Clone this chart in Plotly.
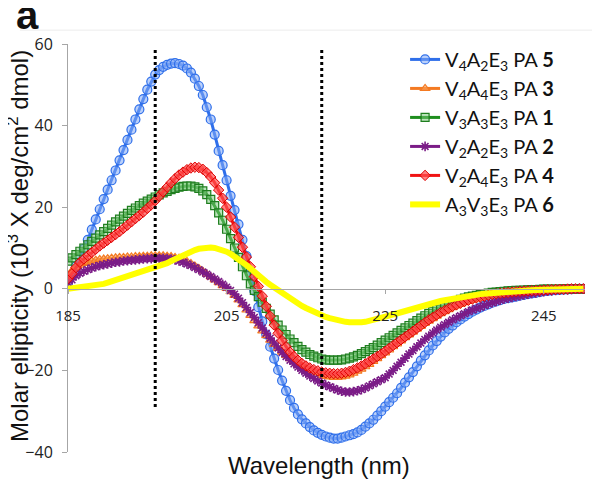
import plotly.graph_objects as go

# Wavelength grid (nm), 0.5 nm steps from 185 to 250
wavelength = [185 + 0.5 * i for i in range(131)]

names = [
    "V<sub>4</sub>A<sub>2</sub>E<sub>3</sub> PA <b>5</b>",
    "V<sub>4</sub>A<sub>4</sub>E<sub>3</sub> PA <b>3</b>",
    "V<sub>3</sub>A<sub>3</sub>E<sub>3</sub> PA <b>1</b>",
    "V<sub>2</sub>A<sub>2</sub>E<sub>3</sub> PA <b>2</b>",
    "V<sub>2</sub>A<sub>4</sub>E<sub>3</sub> PA <b>4</b>",
    "A<sub>3</sub>V<sub>3</sub>E<sub>3</sub> PA <b>6</b>",
]

pa5 = [1.5, 3.5, 5.5, 7.5, 9.8, 12, 14.5, 17, 19.5, 22,
       24.3, 26.6, 29, 31.5, 34, 36.5, 39, 41.5, 44, 46.5,
       48.8, 50.8, 52.5, 53.6, 54.4, 54.9, 55.2, 55.3, 55.1, 54.7,
       54, 53, 51.5, 49.7, 47.5, 44.5, 41.5, 37.8, 33.8, 30.3,
       26.6, 22.8, 19.3, 15.8, 12, 8, 3.6, -0.5, -4.5, -8,
       -11.2, -14.2, -17.1, -19.9, -22.5, -25, -27.3, -29.2, -30.8, -32,
       -33, -33.9, -34.7, -35.3, -35.8, -36.2, -36.5, -36.7, -36.7, -36.5,
       -36.2, -35.9, -35.6, -35.2, -34.6, -33.8, -33, -32.1, -31.1, -30,
       -28.9, -27.8, -26.7, -25.6, -24.3, -23, -21.7, -20.4, -19, -17.6,
       -16.3, -15.1, -13.9, -12.8, -11.7, -10.7, -9.8, -9, -8.2, -7.5,
       -6.8, -6.2, -5.6, -5.1, -4.6, -4.2, -3.8, -3.4, -3.1, -2.8,
       -2.5, -2.3, -2.1, -1.9, -1.7, -1.5, -1.3, -1.1, -1.0, -0.8,
       -0.6, -0.5, -0.4, -0.3, -0.25, -0.2, -0.15, -0.1, -0.05, 0,
       0]

pa3 = [3, 4.4, 5.2, 5.8, 6.2, 6.5, 6.8, 7, 7.2, 7.3,
       7.4, 7.5, 7.6, 7.7, 7.7, 7.8, 7.8, 7.9, 7.9, 8,
       8, 8.1, 8.1, 8.1, 8.1, 8, 7.9, 7.7, 7.5, 7.1,
       6.7, 6.2, 5.6, 5, 4.3, 3.6, 2.9, 2.2, 1.5, 0.8,
       0.1, -0.7, -1.6, -2.7, -3.9, -5.2, -6.5, -7.8, -9.1, -10.3,
       -11.5, -12.6, -13.6, -14.6, -15.5, -16.3, -17.1, -17.8, -18.5, -19.1,
       -19.7, -20.2, -20.6, -21, -21.3, -21.5, -21.6, -21.7, -21.7, -21.6,
       -21.4, -21.1, -20.7, -20.2, -19.7, -19.1, -18.5, -17.8, -17.1, -16.4,
       -15.7, -15, -14.2, -13.5, -12.8, -12, -11.3, -10.6, -9.9, -9.2,
       -8.5, -7.9, -7.3, -6.7, -6.1, -5.6, -5.1, -4.6, -4.2, -3.8,
       -3.4, -3.1, -2.8, -2.5, -2.2, -2, -1.8, -1.6, -1.4, -1.25,
       -1.1, -1, -0.9, -0.8, -0.7, -0.6, -0.5, -0.45, -0.4, -0.35,
       -0.3, -0.25, -0.2, -0.15, -0.1, -0.1, -0.05, 0, 0, 0,
       0]

pa1 = [6.8, 7.6, 8.4, 9.2, 10, 10.8, 11.6, 12.4, 13.2, 14,
       14.8, 15.6, 16.4, 17.1, 17.8, 18.5, 19.2, 19.8, 20.4, 21,
       21.5, 22, 22.5, 23, 23.5, 23.9, 24.3, 24.6, 24.9, 25.1,
       25.2, 25.2, 25, 24.6, 24, 23.1, 21.9, 20.4, 18.6, 16.8,
       14.6, 12.3, 10, 7.7, 5.4, 3.2, 1.2, -0.4, -1.9, -3.3,
       -4.8, -6.2, -7.6, -8.9, -10.1, -11.2, -12.3, -13.2, -14.1, -14.9,
       -15.5, -16.1, -16.5, -16.9, -17.2, -17.4, -17.5, -17.5, -17.5, -17.4,
       -17.2, -17, -16.7, -16.3, -15.9, -15.4, -14.9, -14.4, -13.8, -13.2,
       -12.6, -12, -11.4, -10.8, -10.2, -9.6, -9, -8.4, -7.8, -7.2,
       -6.6, -6, -5.5, -5, -4.5, -4.1, -3.7, -3.3, -2.9, -2.6,
       -2.3, -2, -1.8, -1.6, -1.4, -1.2, -1.05, -0.9, -0.8, -0.7,
       -0.6, -0.5, -0.45, -0.4, -0.35, -0.3, -0.25, -0.2, -0.2, -0.15,
       -0.1, -0.1, -0.05, -0.05, -0.05, 0, 0, 0, 0, 0,
       0]

pa2 = [1.5, 2.2, 3.2, 3.8, 4.3, 4.7, 5.1, 5.4, 5.7, 5.9,
       6.1, 6.3, 6.5, 6.6, 6.8, 6.9, 7, 7.1, 7.2, 7.3,
       7.4, 7.4, 7.5, 7.5, 7.5, 7.4, 7.3, 7.1, 6.8, 6.5,
       6.1, 5.7, 5.2, 4.7, 4.1, 3.6, 3.0, 2.4, 1.8, 1.1,
       0.4, -0.4, -1.3, -2.3, -3.4, -4.6, -5.8, -7, -8.3, -9.6,
       -10.9, -12.1, -13.3, -14.5, -15.6, -16.6, -17.5, -18.4, -19.2, -20,
       -20.7, -21.4, -22, -22.6, -23.1, -23.6, -24, -24.4, -24.8, -25.1,
       -25.3, -25.3, -25.2, -25, -24.7, -24.3, -23.8, -23.3, -22.8, -22.3,
       -21.8, -20.9, -20, -19, -18, -17, -16, -15.1, -14.2, -13.3,
       -12.4, -11.6, -10.8, -10.1, -9.4, -8.8, -8.2, -7.6, -7.1, -6.6,
       -6.1, -5.6, -5.2, -4.8, -4.5, -4.1, -3.7, -3.4, -3.1, -2.8,
       -2.5, -2.3, -2.1, -1.9, -1.7, -1.5, -1.3, -1.15, -1, -0.85,
       -0.7, -0.6, -0.5, -0.4, -0.3, -0.25, -0.2, -0.15, -0.1, -0.05,
       0]

pa4 = [2.5, 3.7, 5.2, 6.5, 7.3, 8.1, 8.9, 9.7, 10.5, 11.2,
       11.9, 12.6, 13.3, 14, 14.8, 15.6, 16.4, 17.2, 18, 18.8,
       19.7, 20.6, 21.6, 22.7, 23.8, 24.9, 26, 27, 27.9, 28.6,
       29.2, 29.6, 29.8, 29.7, 29.3, 28.5, 27.4, 26, 24.2, 22.2,
       20, 17.6, 15.1, 12.6, 10.2, 7.8, 5.4, 3, 0.6, -1.8,
       -4.3, -6.7, -8.9, -10.9, -12.7, -14.2, -15.5, -16.6, -17.5, -18.3,
       -18.9, -19.4, -19.8, -20.1, -20.4, -20.6, -20.7, -20.8, -20.8, -20.7,
       -20.5, -20.2, -19.8, -19.4, -18.9, -18.4, -17.8, -17.2, -16.6, -16,
       -15.3, -14.6, -13.9, -13.2, -12.5, -11.8, -11.1, -10.4, -9.7, -9,
       -8.3, -7.6, -7, -6.4, -5.8, -5.3, -4.8, -4.3, -3.9, -3.5,
       -3.1, -2.8, -2.5, -2.2, -2, -1.8, -1.6, -1.4, -1.25, -1.1,
       -1, -0.9, -0.8, -0.7, -0.6, -0.55, -0.5, -0.45, -0.4, -0.35,
       -0.3, -0.25, -0.2, -0.15, -0.1, -0.1, -0.05, 0, 0, 0,
       0]

pa6 = [0, 0.1, 0.2, 0.3, 0.4, 0.5, 0.65, 0.8, 1, 1.2,
       1.5, 1.8, 2.1, 2.4, 2.7, 3, 3.3, 3.6, 3.9, 4.2,
       4.5, 4.8, 5.1, 5.5, 5.9, 6.3, 6.8, 7.3, 7.8, 8.3,
       8.8, 9.2, 9.5, 9.8, 10, 10.1, 10.1, 10, 9.8, 9.5,
       9.1, 8.6, 8, 7.3, 6.6, 5.8, 5, 4.1, 3.3, 2.5,
       1.7, 1, 0.3, -0.4, -1.1, -1.8, -2.4, -3, -3.6, -4.2,
       -4.7, -5.2, -5.7, -6.1, -6.5, -6.9, -7.2, -7.5, -7.7, -7.9,
       -8.1, -8.2, -8.3, -8.3, -8.2, -8.1, -7.9, -7.7, -7.5, -7.2,
       -6.9, -6.6, -6.3, -6, -5.7, -5.4, -5.1, -4.8, -4.5, -4.2,
       -3.9, -3.7, -3.4, -3.2, -3, -2.8, -2.6, -2.4, -2.2, -2,
       -1.85, -1.7, -1.55, -1.4, -1.3, -1.2, -1.1, -1, -0.9, -0.8,
       -0.7, -0.65, -0.6, -0.55, -0.5, -0.45, -0.4, -0.35, -0.3, -0.25,
       -0.2, -0.15, -0.1, -0.1, -0.05, 0, 0, 0, 0, 0,
       0]

series = [pa5, pa3, pa1, pa2, pa4, pa6]

# wavelengths of the two dotted guide lines, and their vertical extent
guide_wavelengths = [196, 217]
guide_span = [-29, 58.5]

x_ticks = [185, 205, 225, 245]
y_ticks = [-40, -20, 0, 20, 40, 60]

styles = [
    dict(line=dict(color="#2F6FEA", width=3),
         marker=dict(symbol="circle", size=9, color="rgba(130,170,245,0.55)",
                     line=dict(color="#2F6FEA", width=1.2))),
    dict(line=dict(color="#F47A22", width=3),
         marker=dict(symbol="triangle-up", size=8, color="rgba(250,160,90,0.6)",
                     line=dict(color="#F47A22", width=1.2))),
    dict(line=dict(color="#1E8E1E", width=3),
         marker=dict(symbol="square", size=8, color="rgba(120,200,120,0.5)",
                     line=dict(color="#1E7E1E", width=1.2))),
    dict(line=dict(color="#7B1C87", width=3),
         marker=dict(symbol="asterisk-open", size=8, color="#7B1C87",
                     line=dict(color="#7B1C87", width=1.6))),
    dict(line=dict(color="#F01414", width=3),
         marker=dict(symbol="diamond", size=8, color="rgba(255,80,80,0.7)",
                     line=dict(color="#E00000", width=1))),
    dict(line=dict(color="#FFFF00", width=6), marker=None),
]

fig = go.Figure()
for i, (name, vals, st) in enumerate(zip(names, series, styles)):
    kw = dict(x=wavelength, y=vals, name=name, line=st["line"],
              legendgroup=f"g{i}")
    if st["marker"] is not None:
        kw["mode"] = "lines+markers"
        kw["marker"] = st["marker"]
    else:
        kw["mode"] = "lines"
    fig.add_trace(go.Scatter(**kw))

for gx in guide_wavelengths:
    fig.add_shape(type="line", xref="x", yref="y", x0=gx, x1=gx,
                  y0=guide_span[0], y1=guide_span[1],
                  line=dict(color="black", width=3, dash="dot"), layer="above")

# faint chart-area border line at the top
fig.add_shape(type="line", xref="paper", yref="paper", x0=-0.093, x1=1.03,
              y0=1.034, y1=1.034, line=dict(color="#ececec", width=1))

# the page body has an 8px default margin, so the figure is 8px smaller
fig.update_layout(
    width=592, height=473,
    margin=dict(l=60, r=15, t=36, b=29),
    paper_bgcolor="white", plot_bgcolor="white",
    showlegend=True,
    legend=dict(x=0.652, y=1.01, xanchor="left", yanchor="top",
                font=dict(family="Lato", size=20, color="#111"),
                tracegroupgap=0, itemwidth=30, bgcolor="rgba(255,255,255,0)"),
    xaxis=dict(range=[185, 250.2], tickvals=x_ticks, ticktext=[str(t) for t in x_ticks],
               showgrid=False, zeroline=False, showline=True, linecolor="#a6a6a6",
               linewidth=1, ticks="outside", ticklen=4, tickcolor="#a6a6a6",
               anchor="free", position=0.4, ticklabelstandoff=9,
               tickfont=dict(family="Open Sans", size=15, color="#222")),
    yaxis=dict(range=[-40, 60], tickvals=y_ticks, showgrid=False, zeroline=False,
               showline=True, linecolor="#a6a6a6", linewidth=1, ticks="outside",
               ticklen=5, tickcolor="#a6a6a6", ticklabelstandoff=6,
               tickfont=dict(family="Open Sans", size=16, color="#222")),
    annotations=[
        dict(text="Molar ellipticity (10<sup>3</sup> X deg/cm<sup>2</sup> dmol)",
             xref="paper", yref="paper", x=-0.0967, y=0.505, textangle=-90,
             showarrow=False, xanchor="center", yanchor="middle",
             font=dict(family="Liberation Sans", size=24, color="#111")),
        dict(text="Wavelength (nm)", xref="paper", yref="paper", x=0.485, y=-0.033,
             showarrow=False, xanchor="center", yanchor="middle",
             font=dict(family="Liberation Sans", size=24, color="#111")),
        dict(text="<b>a</b>", xref="paper", yref="paper", x=-0.079, y=1.072,
             showarrow=False, xanchor="center", yanchor="middle",
             font=dict(family="Liberation Sans", size=40, color="#111")),
    ],
)

fig.write_html("out.html")
